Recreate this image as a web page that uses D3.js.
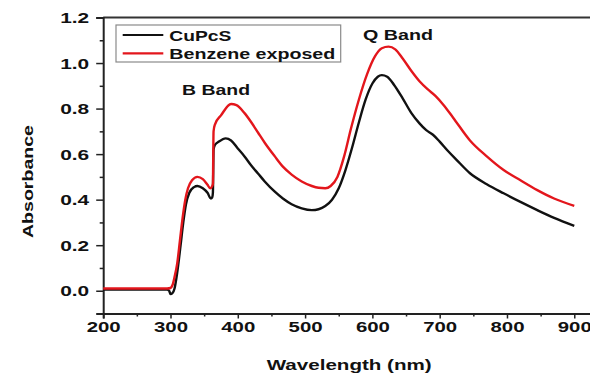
<!DOCTYPE html>
<html>
<head>
<meta charset="utf-8">
<script src="https://cdn.jsdelivr.net/npm/d3@7"></script>
<style>
html,body{margin:0;padding:0;background:#fff;}
svg text{font-family:"Liberation Sans",Arial,sans-serif;font-weight:bold;fill:#111;}
</style>
</head>
<body>
<svg id="chart" width="590" height="375"></svg>
<script>
// Data (wavelength nm, absorbance)
const cupcsWl = [200,250,295,298,300,303,306,310,315,319,323,328,335,340,348,355,360,362,363,364,366,372,382,390,400,410,420,430,440,455,467,480,495,510,520,530,540,550,560,570,580,590,600,608,614,622,632,645,658,670,680,690,700,712,725,745,770,795,820,845,870,900];
const cupcsAbs = [0.005,0.005,0.005,0.0,-0.015,-0.01,0.01,0.08,0.2,0.3,0.38,0.43,0.455,0.46,0.45,0.43,0.405,0.41,0.43,0.62,0.64,0.655,0.669,0.66,0.625,0.59,0.55,0.515,0.48,0.435,0.405,0.38,0.362,0.354,0.358,0.372,0.40,0.45,0.53,0.63,0.74,0.84,0.91,0.94,0.947,0.94,0.905,0.845,0.78,0.735,0.705,0.685,0.655,0.615,0.575,0.516,0.468,0.428,0.39,0.354,0.32,0.285];
const benzWl = [200,250,295,300,303,306,310,314,318,322,326,332,340,348,355,359,362,363,364,366,375,390,398,410,420,430,440,455,467,480,495,510,520,530,538,548,558,568,580,592,604,614,624,634,645,658,670,682,694,706,720,745,770,795,820,845,870,900];
const benzAbs = [0.01,0.01,0.01,0.012,0.025,0.06,0.12,0.22,0.32,0.40,0.45,0.485,0.50,0.49,0.465,0.45,0.46,0.47,0.70,0.73,0.77,0.82,0.815,0.78,0.74,0.695,0.65,0.59,0.545,0.51,0.48,0.46,0.452,0.45,0.46,0.50,0.59,0.71,0.84,0.95,1.03,1.065,1.072,1.06,1.02,0.965,0.92,0.885,0.855,0.815,0.76,0.66,0.59,0.53,0.485,0.442,0.405,0.373];
const xTicks = [200,300,400,500,600,700,800,900];
const xMinor = [250,350,450,550,650,750,850];
const yTicks = [0.0,0.2,0.4,0.6,0.8,1.0,1.2];
const yMinor = [0.1,0.3,0.5,0.7,0.9,1.1];
const seriesNames = ["CuPcS","Benzene exposed"];
const seriesColors = ["#111111","#e3161c"];

const svg = d3.select("#chart");
const x = d3.scaleLinear().domain([200,925]).range([103.2, 591.1]);
const y = d3.scaleLinear().domain([-0.1,1.2]).range([313.5, 17.5]);

const axisColor = "#222";
// top border
svg.append("line").attr("x1",x(200)).attr("x2",590).attr("y1",y(1.2)).attr("y2",y(1.2))
  .attr("stroke","#333").attr("stroke-width",2);

// X axis
const gx = svg.append("g").attr("transform",`translate(0,${y(-0.1)})`);
gx.call(d3.axisBottom(x).tickValues(xTicks).tickSize(5).tickFormat(d3.format("d")));
gx.append("g").call(d3.axisBottom(x).tickValues(xMinor).tickSize(3).tickFormat(""))
  .select(".domain").remove();
gx.selectAll("path.domain").attr("stroke",axisColor).attr("stroke-width",2);
gx.selectAll(".tick line").attr("stroke",axisColor).attr("stroke-width",1.5);
gx.selectAll(".tick text").attr("font-size",15).attr("y",8).attr("dy","0.71em")
  .attr("textLength",34).attr("lengthAdjust","spacingAndGlyphs")
  .style("font-family","Liberation Sans, Arial, sans-serif").style("font-weight","bold").attr("fill","#111");

// Y axis
const gy = svg.append("g").attr("transform",`translate(${x(200)},0)`);
gy.call(d3.axisLeft(y).tickValues(yTicks).tickSize(7).tickFormat(d3.format(".1f")));
gy.append("g").call(d3.axisLeft(y).tickValues(yMinor).tickSize(3.5).tickFormat(""))
  .select(".domain").remove();
gy.selectAll("path.domain").attr("stroke",axisColor).attr("stroke-width",2);
gy.selectAll(".tick line").attr("stroke",axisColor).attr("stroke-width",1.5);
gy.selectAll(".tick text").attr("font-size",14.5).attr("x",-14).attr("dy","0.36em")
  .attr("textLength",29).attr("lengthAdjust","spacingAndGlyphs")
  .style("font-family","Liberation Sans, Arial, sans-serif").style("font-weight","bold").attr("fill","#111");

// Lines
const line = d3.line().x(d=>x(d[0])).y(d=>y(d[1])).curve(d3.curveMonotoneX);
const series = [
  d3.zip(cupcsWl, cupcsAbs),
  d3.zip(benzWl, benzAbs)
];
series.forEach((s,i)=>{
  svg.append("path").datum(s).attr("d",line).attr("fill","none")
    .attr("stroke",seriesColors[i]).attr("stroke-width",2.4).attr("stroke-linejoin","round");
});

// Legend
svg.append("rect").attr("x",116).attr("y",25).attr("width",224.7).attr("height",37)
  .attr("fill","#fff").attr("stroke","#8a8a8a").attr("stroke-width",1.2);
const legY = [35,53.3];
const legTextY = [40.7,58.5];
const legLen = [62,166];
seriesNames.forEach((n,i)=>{
  svg.append("line").attr("x1",122.7).attr("x2",163.3).attr("y1",legY[i]).attr("y2",legY[i])
    .attr("stroke",seriesColors[i]).attr("stroke-width",2.2);
  svg.append("text").attr("x",169.3).attr("y",legTextY[i]).attr("font-size",15)
    .attr("textLength",legLen[i]).attr("lengthAdjust","spacingAndGlyphs").text(n);
});

// Annotations
svg.append("text").attr("x",182).attr("y",95).attr("font-size",14.5)
  .attr("textLength",68).attr("lengthAdjust","spacingAndGlyphs").text("B Band");
svg.append("text").attr("x",363).attr("y",40).attr("font-size",14.5)
  .attr("textLength",70).attr("lengthAdjust","spacingAndGlyphs").text("Q Band");

// Axis titles
svg.append("text").attr("x",266.7).attr("y",370).attr("font-size",14.5)
  .attr("textLength",165).attr("lengthAdjust","spacingAndGlyphs").text("Wavelength (nm)");
svg.append("text").attr("transform","translate(33,181.5) rotate(-90)").attr("text-anchor","middle")
  .attr("font-size",15.5).attr("textLength",113).attr("lengthAdjust","spacingAndGlyphs").text("Absorbance");
</script>
</body>
</html>
